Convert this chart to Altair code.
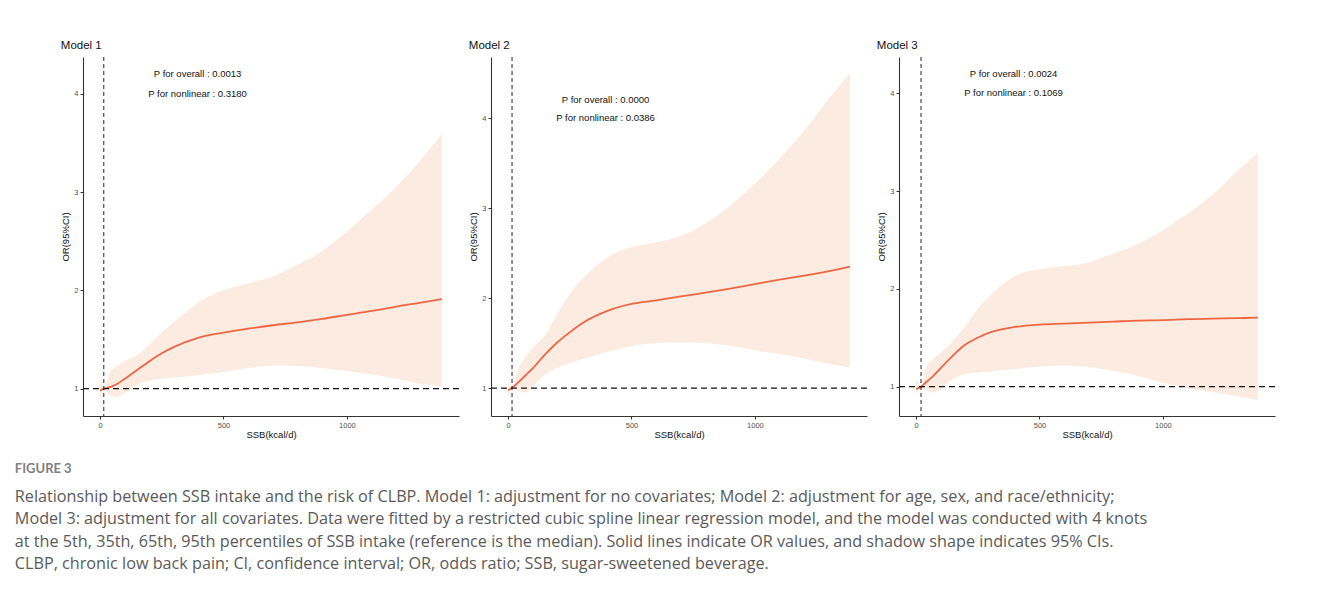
import altair as alt
import pandas as pd

# ---------------- data ----------------
ssb1 = [0, 15, 40, 70, 100, 150, 200, 250, 300, 400, 500, 600, 700, 800, 900, 1000, 1100, 1200, 1300, 1385]
or1 = [0.98, 1.0, 1.015, 1.05, 1.10, 1.19, 1.28, 1.36, 1.425, 1.52, 1.57, 1.61, 1.645, 1.675, 1.71, 1.75, 1.79, 1.835, 1.875, 1.91]
hi1 = [1.09, 1.0, 1.16, 1.23, 1.28, 1.34, 1.45, 1.57, 1.68, 1.88, 2.00, 2.07, 2.14, 2.26, 2.40, 2.60, 2.82, 3.05, 3.33, 3.59]
lo1 = [0.90, 1.0, 0.93, 0.915, 0.95, 1.04, 1.08, 1.10, 1.11, 1.14, 1.17, 1.21, 1.235, 1.23, 1.21, 1.18, 1.145, 1.10, 1.05, 1.02]

ssb2 = [0, 15, 40, 70, 100, 150, 200, 250, 300, 400, 500, 600, 700, 800, 900, 1000, 1100, 1200, 1300, 1385]
or2 = [0.975, 1.0, 1.06, 1.14, 1.22, 1.375, 1.51, 1.62, 1.72, 1.855, 1.935, 1.975, 2.02, 2.06, 2.105, 2.155, 2.205, 2.25, 2.30, 2.35]
hi2 = [1.07, 1.0, 1.21, 1.34, 1.45, 1.59, 1.83, 2.05, 2.21, 2.45, 2.565, 2.62, 2.69, 2.83, 3.03, 3.27, 3.55, 3.86, 4.22, 4.50]
lo2 = [0.90, 1.0, 0.97, 0.95, 1.02, 1.15, 1.23, 1.28, 1.32, 1.40, 1.465, 1.50, 1.51, 1.50, 1.47, 1.42, 1.38, 1.33, 1.27, 1.23]

ssb3 = [0, 20, 40, 70, 100, 150, 200, 250, 300, 400, 500, 600, 700, 800, 900, 1000, 1100, 1200, 1300, 1385]
or3 = [0.976, 1.0, 1.045, 1.11, 1.19, 1.32, 1.43, 1.50, 1.555, 1.61, 1.635, 1.645, 1.655, 1.665, 1.675, 1.68, 1.69, 1.695, 1.70, 1.705]
hi3 = [1.08, 1.0, 1.20, 1.28, 1.35, 1.47, 1.62, 1.80, 1.93, 2.13, 2.20, 2.23, 2.27, 2.36, 2.46, 2.60, 2.77, 2.96, 3.20, 3.39]
lo3 = [0.91, 1.0, 0.965, 0.94, 0.98, 1.08, 1.13, 1.145, 1.155, 1.18, 1.205, 1.215, 1.20, 1.16, 1.11, 1.04, 0.99, 0.945, 0.905, 0.86]

ref_points = [15, 16, 20]
model_titles = ["Model 1", "Model 2", "Model 3"]
p_overall = ["P for overall : 0.0013", "P for overall : 0.0000", "P for overall : 0.0024"]
p_nonlinear = ["P for nonlinear : 0.3180", "P for nonlinear : 0.0386", "P for nonlinear : 0.1069"]
y_domains = [[0.722, 4.373], [0.69, 4.68], [0.70, 4.37]]
x_domain = [-69.25, 1454.25]
x_ticks = [0, 500, 1000]
y_ticks = [1, 2, 3, 4]
label_x = 395
label_y = [4.2, 4.0]

caption_head = "FIGURE 3"
caption_lines = [
    "Relationship between SSB intake and the risk of CLBP. Model 1: adjustment for no covariates; Model 2: adjustment for age, sex, and race/ethnicity;",
    "Model 3: adjustment for all covariates. Data were fitted by a restricted cubic spline linear regression model, and the model was conducted with 4 knots",
    "at the 5th, 35th, 65th, 95th percentiles of SSB intake (reference is the median). Solid lines indicate OR values, and shadow shape indicates 95% CIs.",
    "CLBP, chronic low back pain; CI, confidence interval; OR, odds ratio; SSB, sugar-sweetened beverage.",
]

BAND = "#FCEBE0"
LINE = "#EE6641"
FONT = "Liberation Sans"


def panel(i, ssb, orv, lo, hi):
    df = pd.DataFrame({"SSB": ssb, "OR": orv, "lo": lo, "hi": hi})
    xs = alt.Scale(domain=x_domain, nice=False, zero=False)
    ys = alt.Scale(domain=y_domains[i], nice=False, zero=False)
    xax = alt.Axis(values=x_ticks, title="SSB(kcal/d)", format="d", titlePadding=1)
    yax = alt.Axis(values=y_ticks, title="OR(95%CI)", format="d", titlePadding=3)

    band = alt.Chart(df).mark_area(color=BAND, opacity=1, interpolate="monotone").encode(
        x=alt.X("SSB:Q", scale=xs, axis=xax),
        y=alt.Y("lo:Q", scale=ys, axis=yax),
        y2="hi:Q",
    )
    line = alt.Chart(df).mark_line(color=LINE, strokeWidth=1.8, interpolate="monotone").encode(
        x=alt.X("SSB:Q", scale=xs, axis=xax),
        y=alt.Y("OR:Q", scale=ys, axis=yax),
    )
    hrule = alt.Chart(pd.DataFrame({"OR": [1.0]})).mark_rule(
        color="#111", strokeDash=[6, 4], strokeWidth=1.1
    ).encode(y=alt.Y("OR:Q", scale=ys, axis=yax))
    vrule = alt.Chart(pd.DataFrame({"SSB": [ref_points[i]]})).mark_rule(
        color="#222", strokeDash=[4, 3], strokeWidth=1.0
    ).encode(x=alt.X("SSB:Q", scale=xs, axis=xax))
    tdf = pd.DataFrame({"SSB": [label_x, label_x], "OR": label_y, "t": [p_overall[i], p_nonlinear[i]]})
    texts = alt.Chart(tdf).mark_text(font=FONT, fontSize=9.5, color="#111").encode(
        x=alt.X("SSB:Q", scale=xs, axis=xax),
        y=alt.Y("OR:Q", scale=ys, axis=yax),
        text="t:N",
    )
    return alt.layer(band, line, hrule, vrule, texts).properties(
        width=376,
        height=359,
        title=alt.TitleParams(
            model_titles[i], anchor="start", fontSize=11.5, fontWeight="normal",
            font=FONT, color="#111", offset=5,
        ),
    )


chart = alt.hconcat(
    panel(0, ssb1, or1, lo1, hi1),
    panel(1, ssb2, or2, lo2, hi2),
    panel(2, ssb3, or3, lo3, hi3),
    spacing=8,
).properties(
    padding={"left": 6, "top": 32, "right": 5, "bottom": 5},
    title=alt.TitleParams(
        caption_head,
        subtitle=caption_lines,
        orient="bottom",
        anchor="start",
        dx=-46,
        offset=24,
        font="Lato",
        fontSize=13,
        fontWeight="bold",
        color="#808080",
        subtitleFont="Open Sans",
        subtitleFontSize=16.2,
        subtitleColor="#5a5a5a",
        subtitleLineHeight=22.4,
        subtitlePadding=13,
    ),
).configure_view(stroke=None).configure_axis(
    grid=False,
    domainColor="#333",
    domainWidth=1.1,
    tickColor="#333",
    tickSize=3,
    labelColor="#4d4d4d",
    labelFontSize=7.5,
    labelFont=FONT,
    labelPadding=2,
    titleFont=FONT,
    titleFontSize=9.5,
    titleFontWeight="normal",
    titleColor="#111",
)

chart.save("out.html", embed_options={"renderer": "svg", "actions": False})
